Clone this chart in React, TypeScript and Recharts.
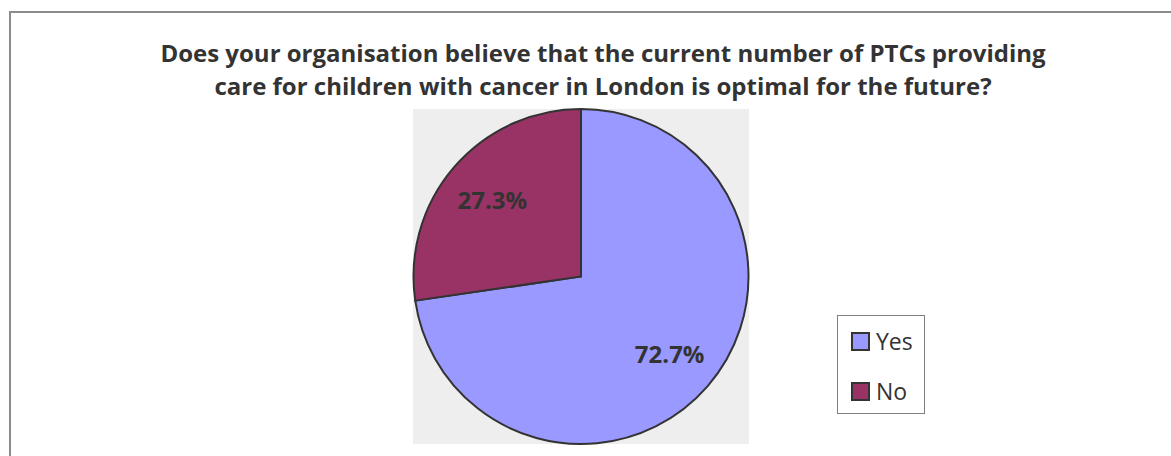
import React from "react";
import { PieChart, Pie, Cell, Legend } from "recharts";

// Survey answers (percent of responding organisations)
const answers = ["Yes", "No"];
const shares = [72.7, 27.3];
const sliceColors = ["#9999FF", "#993366"];

const titleLines = [
  "Does your organisation believe that the current number of PTCs providing",
  "care for children with cancer in London is optimal for the future?",
];

const data = answers.map((name, i) => ({ name, value: shares[i] }));

const W = 1171;
const H = 456;
const FONT = "'Open Sans', 'DejaVu Sans', sans-serif";
const RAD = Math.PI / 180;

const renderLabel = (props: any) => {
  const { cx, cy, midAngle, outerRadius, value } = props;
  const r = outerRadius * 0.7;
  const x = cx + r * Math.cos(-midAngle * RAD);
  const y = cy + r * Math.sin(-midAngle * RAD);
  return (
    <text
      x={x}
      y={y}
      textAnchor="middle"
      dominantBaseline="central"
      fontFamily={FONT}
      fontWeight="bold"
      fontSize={24}
      fill="#333333"
    >
      {`${value.toFixed(1)}%`}
    </text>
  );
};

const LegendBox = () => (
  <div
    style={{
      width: 88,
      height: 99,
      border: "1px solid #808080",
      background: "#ffffff",
      boxSizing: "border-box",
      fontFamily: FONT,
      fontSize: 23,
      color: "#333333",
      position: "relative",
    }}
  >
    {answers.map((name, i) => (
      <div
        key={name}
        style={{
          position: "absolute",
          left: 13,
          top: 13 + i * 50,
          display: "flex",
          alignItems: "center",
          height: 24,
        }}
      >
        <span
          style={{
            display: "inline-block",
            width: 15,
            height: 15,
            background: sliceColors[i],
            border: "2px solid #333333",
            marginRight: 6,
          }}
        />
        <span style={{ lineHeight: "24px" }}>{name}</span>
      </div>
    ))}
  </div>
);

export default function App() {
  return (
    <div style={{ position: "absolute", left: 0, top: 0, width: W, height: H, background: "#ffffff", overflow: "hidden" }}>
      <svg width={W} height={H} style={{ position: "absolute", left: 0, top: 0 }}>
        <rect x={10} y={12} width={W + 20} height={H + 20} fill="#ffffff" stroke="#8c8c8c" strokeWidth={2} />
        <rect x={413} y={109} width={336} height={335} fill="#eeeeee" />
        {titleLines.map((line, i) => (
          <text
            key={i}
            x={603}
            y={62 + i * 33}
            textAnchor="middle"
            fontFamily={FONT}
            fontWeight="bold"
            fontSize={24}
            fill="#333333"
          >
            {line}
          </text>
        ))}
      </svg>
      <div style={{ position: "absolute", left: 0, top: 0 }}>
        <PieChart width={W} height={H} margin={{ top: 0, right: 0, bottom: 0, left: 0 }}>
          <Pie
            data={data}
            dataKey="value"
            nameKey="name"
            cx={581}
            cy={276.5}
            outerRadius={167.5}
            startAngle={90}
            endAngle={-270}
            stroke="#333333"
            strokeWidth={2}
            label={renderLabel}
            labelLine={false}
            isAnimationActive={false}
          >
            {data.map((d, i) => (
              <Cell key={d.name} fill={sliceColors[i]} />
            ))}
          </Pie>
          <Legend
            content={() => <LegendBox />}
            wrapperStyle={{ position: "absolute", left: 837, top: 315, width: 88, height: 99 }}
          />
        </PieChart>
      </div>
    </div>
  );
}
